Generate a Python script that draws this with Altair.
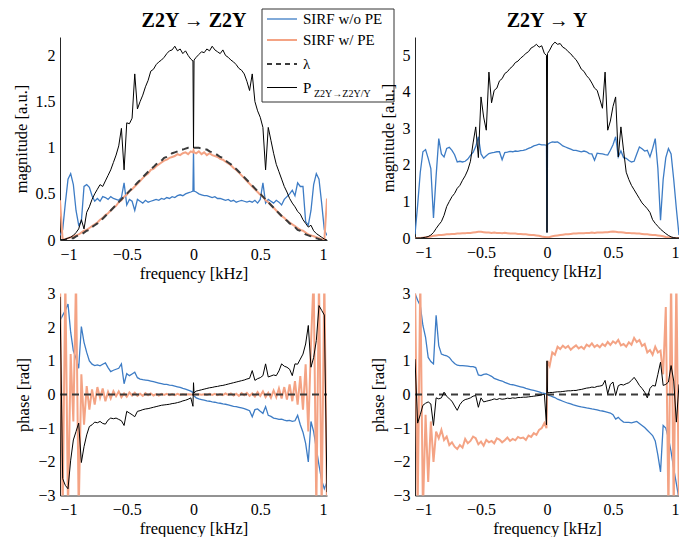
import altair as alt
import pandas as pd

# frequency grid [kHz]
F = ([round(-1 + 0.02 * i, 3) for i in range(50)] + [-0.004, 0.0, 0.004]
     + [round(0.02 * (i + 1), 3) for i in range(50)])

# ---------------- magnitude, Z2Y -> Z2Y ----------------
MAG_Z2Y_WO = [0.05, 0.11, 0.40, 0.66, 0.72, 0.60, 0.32, 0.16, 0.20, 0.58,
              0.60, 0.57, 0.48, 0.42, 0.45, 0.42, 0.47, 0.46, 0.44, 0.47,
              0.45, 0.44, 0.43, 0.46, 0.62, 0.38, 0.44, 0.42, 0.32, 0.44,
              0.42, 0.40, 0.43, 0.41, 0.42, 0.43, 0.44, 0.43, 0.45, 0.44,
              0.46, 0.45, 0.47, 0.46, 0.48, 0.49, 0.48, 0.50, 0.51, 0.52,
              0.53, 0.97, 0.53,
              0.52, 0.50, 0.49, 0.48, 0.48, 0.47, 0.46, 0.47, 0.45, 0.45,
              0.44, 0.43, 0.44, 0.42, 0.43, 0.41, 0.42, 0.43, 0.42, 0.41,
              0.42, 0.41, 0.43, 0.40, 0.44, 0.62, 0.40, 0.44, 0.42, 0.40,
              0.43, 0.41, 0.38, 0.44, 0.47, 0.50, 0.54, 0.48, 0.62, 0.58,
              0.58, 0.20, 0.16, 0.32, 0.60, 0.72, 0.66, 0.40, 0.11, 0.05]
MAG_Z2Y_W = [0.43, 0.00, 0.01, 0.02, 0.03, 0.04, 0.05, 0.06, 0.08, 0.10,
             0.11, 0.13, 0.15, 0.17, 0.19, 0.22, 0.24, 0.27, 0.29, 0.32,
             0.35, 0.37, 0.41, 0.43, 0.47, 0.49, 0.53, 0.55, 0.58, 0.61,
             0.64, 0.67, 0.70, 0.72, 0.76, 0.77, 0.80, 0.82, 0.84, 0.86,
             0.87, 0.89, 0.90, 0.91, 0.93, 0.92, 0.94, 0.95, 0.93, 0.96,
             0.95, 0.97, 0.95,
             0.94, 0.96, 0.93, 0.95, 0.92, 0.94, 0.92, 0.91, 0.90, 0.88,
             0.87, 0.85, 0.83, 0.81, 0.78, 0.76, 0.73, 0.70, 0.67, 0.64,
             0.61, 0.58, 0.55, 0.52, 0.49, 0.47, 0.43, 0.41, 0.38, 0.35,
             0.32, 0.29, 0.26, 0.24, 0.21, 0.19, 0.17, 0.15, 0.13, 0.11,
             0.10, 0.08, 0.06, 0.05, 0.04, 0.03, 0.02, 0.01, 0.00, 0.45]
MAG_Z2Y_LAMBDA = [0.00, 0.00, 0.00, 0.01, 0.02, 0.02, 0.04, 0.05, 0.06, 0.08,
                  0.10, 0.11, 0.14, 0.16, 0.18, 0.21, 0.23, 0.26, 0.29, 0.32,
                  0.35, 0.38, 0.41, 0.44, 0.47, 0.50, 0.53, 0.56, 0.59, 0.62,
                  0.65, 0.68, 0.71, 0.74, 0.77, 0.79, 0.82, 0.84, 0.86, 0.89,
                  0.90, 0.92, 0.94, 0.95, 0.96, 0.98, 0.98, 0.99, 1.00, 1.00,
                  1.00, 1.00, 1.00,
                  1.00, 1.00, 0.99, 0.98, 0.98, 0.96, 0.95, 0.94, 0.92, 0.90,
                  0.89, 0.86, 0.84, 0.82, 0.79, 0.77, 0.74, 0.71, 0.68, 0.65,
                  0.62, 0.59, 0.56, 0.53, 0.50, 0.47, 0.44, 0.41, 0.38, 0.35,
                  0.32, 0.29, 0.26, 0.23, 0.21, 0.18, 0.16, 0.14, 0.11, 0.10,
                  0.08, 0.06, 0.05, 0.04, 0.02, 0.02, 0.01, 0.00, 0.00, 0.00]
MAG_Z2Y_P = [0.00, 0.00, 0.01, 0.02, 0.03, 0.05, 0.08, 0.12, 0.22, 0.12,
             0.30, 0.36, 0.44, 0.50, 0.55, 0.60, 0.58, 0.64, 0.70, 0.76,
             0.84, 0.92, 1.02, 1.21, 0.76, 1.27, 1.26, 1.32, 1.80, 1.42,
             1.50, 1.57, 1.66, 1.73, 1.83, 1.85, 1.90, 1.93, 1.95, 1.98,
             2.02, 2.05, 2.06, 2.10, 2.05, 2.07, 2.02, 2.05, 2.00, 1.96,
             1.94, 1.00, 1.95,
             1.98, 2.01, 2.04, 2.03, 2.07, 2.05, 2.10, 2.06, 2.04, 2.02,
             2.06, 2.00, 1.98, 1.95, 1.93, 1.90, 1.86, 1.84, 1.80, 1.72,
             1.62, 1.80, 1.50, 1.40, 1.33, 1.22, 0.76, 1.22, 1.08, 0.94,
             0.82, 0.74, 0.66, 0.58, 0.52, 0.45, 0.40, 0.36, 0.31, 0.28,
             0.22, 0.18, 0.14, 0.16, 0.10, 0.07, 0.05, 0.03, 0.01, 0.00]

# ---------------- magnitude, Z2Y -> Y ----------------
MAG_Y_WO = [0.10, 0.90, 1.80, 2.36, 2.42, 2.18, 1.90, 0.55, 1.70, 2.72,
            2.30, 2.22, 2.45, 2.48, 2.40, 2.28, 2.08, 2.10, 2.08, 2.10,
            2.16, 2.26, 2.34, 2.50, 2.77, 2.30, 2.18, 2.25, 2.31, 2.33,
            2.34, 2.36, 2.36, 2.14, 2.34, 2.35, 2.37, 2.36, 2.38, 2.37,
            2.39, 2.40, 2.42, 2.45, 2.48, 2.52, 2.54, 2.57, 2.55, 2.55,
            2.54, 0.15, 2.56,
            2.60, 2.63, 2.62, 2.63, 2.58, 2.52, 2.49, 2.46, 2.43, 2.40,
            2.40, 2.38, 2.36, 2.38, 2.36, 2.31, 2.30, 2.13, 2.32, 2.31,
            2.30, 2.28, 2.27, 2.40, 2.55, 2.77, 2.22, 2.38, 2.20, 2.18,
            2.12, 2.08, 2.10, 2.30, 2.49, 2.44, 2.38, 2.40, 2.22, 2.45,
            2.72, 1.90, 0.49, 1.60, 2.20, 2.45, 2.30, 1.60, 0.80, 0.08]
MAG_Y_W = [0.00, 0.00, 0.00, 0.01, 0.02, 0.03, 0.04, 0.06, 0.07, 0.08,
           0.08, 0.09, 0.10, 0.10, 0.11, 0.11, 0.12, 0.12, 0.13, 0.13,
           0.14, 0.14, 0.15, 0.16, 0.17, 0.17, 0.16, 0.15, 0.15, 0.14,
           0.15, 0.14, 0.14, 0.13, 0.14, 0.13, 0.12, 0.12, 0.12, 0.11,
           0.11, 0.10, 0.10, 0.09, 0.08, 0.08, 0.07, 0.06, 0.04, 0.03,
           0.02, 0.01, 0.02,
           0.03, 0.05, 0.06, 0.07, 0.08, 0.09, 0.10, 0.10, 0.11, 0.12,
           0.12, 0.13, 0.13, 0.13, 0.14, 0.14, 0.15, 0.14, 0.15, 0.15,
           0.15, 0.16, 0.16, 0.17, 0.18, 0.17, 0.16, 0.16, 0.15, 0.14,
           0.14, 0.13, 0.13, 0.12, 0.12, 0.11, 0.10, 0.10, 0.09, 0.08,
           0.08, 0.07, 0.06, 0.05, 0.03, 0.02, 0.01, 0.00, 0.00, 0.00]
MAG_Y_P = [0.00, 0.00, 0.00, 0.01, 0.02, 0.04, 0.08, 0.15, 0.26, 0.36,
           0.45, 0.62, 0.86, 1.00, 1.13, 1.22, 1.36, 1.44, 1.58, 1.70,
           1.86, 2.10, 2.60, 3.04, 2.20, 3.86, 3.31, 2.95, 4.54, 3.70,
           4.04, 4.10, 4.30, 4.36, 4.50, 4.55, 4.64, 4.70, 4.80, 4.84,
           4.92, 4.98, 5.05, 5.10, 5.20, 5.24, 5.30, 5.22, 5.26, 5.05,
           5.00, 0.15, 5.05,
           5.14, 5.28, 5.36, 5.30, 5.32, 5.22, 5.18, 5.10, 5.04, 4.95,
           4.88, 4.76, 4.62, 4.56, 4.44, 4.36, 4.24, 4.10, 4.04, 3.80,
           3.55, 4.54, 2.95, 3.20, 3.60, 3.86, 2.22, 3.04, 2.40, 1.80,
           1.60, 1.44, 1.32, 1.20, 1.08, 0.96, 0.88, 0.80, 0.70, 0.50,
           0.40, 0.32, 0.24, 0.18, 0.12, 0.07, 0.03, 0.01, 0.00, 0.00]

# ---------------- phase, Z2Y -> Z2Y ----------------
PH_Z2Y_WO = [2.20, 2.35, 2.50, 2.69, 1.85, 1.30, 1.08, 0.78, 2.02, 1.55,
             1.25, 1.00, 0.90, 0.86, 0.88, 0.85, 0.90, 0.94, 0.80, 0.68,
             0.72, 0.75, 0.78, 0.91, 0.32, 0.62, 0.56, 0.61, 0.66, 0.50,
             0.46, 0.44, 0.43, 0.42, 0.40, 0.38, 0.36, 0.34, 0.32, 0.30,
             0.30, 0.28, 0.27, 0.25, 0.23, 0.21, 0.18, 0.16, 0.13, 0.10,
             0.06, 0.00, -0.04,
             -0.10, -0.13, -0.15, -0.17, -0.19, -0.20, -0.22, -0.23, -0.25, -0.26,
             -0.28, -0.29, -0.31, -0.33, -0.35, -0.36, -0.38, -0.40, -0.42, -0.45,
             -0.48, -0.66, -0.45, -0.43, -0.50, -0.56, -0.36, -0.62, -0.65, -0.70,
             -0.72, -0.74, -0.73, -0.76, -0.78, -0.77, -0.80, -0.78, -0.62, -0.90,
             -1.12, -1.45, -2.00, -0.80, -1.10, -1.60, -2.10, -2.55, -2.80, -2.60]
PH_Z2Y_W = [3.5, -3.5, 3.5, -3.5, 1.2, -0.8, 3.5, -3.5, 0.6, -0.9,
            0.25, -0.45, 0.15, -0.30, 0.22, -0.10, 0.18, -0.20, 0.08, -0.12,
            0.10, -0.05, 0.09, -0.08, 0.03, -0.07, 0.06, -0.03, 0.05, -0.04,
            0.02, -0.04, 0.04, -0.02, 0.03, -0.03, 0.01, -0.03, 0.02, -0.01,
            0.02, -0.02, 0.01, -0.02, 0.02, -0.01, 0.01, -0.01, 0.01, 0.00,
            0.00, 0.00, 0.00,
            0.00, 0.01, -0.01, 0.01, -0.01, 0.02, -0.01, 0.02, -0.02, 0.01,
            -0.02, 0.03, -0.01, 0.03, -0.03, 0.02, -0.04, 0.04, -0.02, 0.05,
            -0.04, 0.03, -0.06, 0.07, -0.04, 0.09, -0.08, 0.05, -0.10, 0.12,
            -0.08, 0.18, -0.12, 0.22, -0.15, 0.30, -0.20, 0.40, -0.30, 0.55,
            -0.45, 0.90, -1.10, 1.50, 3.5, -3.5, 3.5, -3.5, 3.5, -3.5]
PH_Z2Y_P = [2.90, -2.50, -2.70, -2.80, -1.95, -1.35, -1.10, -0.85, -2.02, -1.55,
            -1.20, -0.95, -0.90, -0.82, -0.84, -0.80, -0.86, -0.88, -0.76, -0.70,
            -0.72, -0.70, -0.74, -0.78, -0.92, -0.50, -0.55, -0.60, -0.66, -0.50,
            -0.48, -0.45, -0.43, -0.42, -0.40, -0.38, -0.36, -0.34, -0.32, -0.31,
            -0.30, -0.29, -0.27, -0.26, -0.24, -0.22, -0.19, -0.17, -0.14, -0.10,
            -0.35, 0.35, 0.05,
            0.10, 0.12, 0.14, 0.16, 0.18, 0.20, 0.21, 0.23, 0.24, 0.26,
            0.27, 0.29, 0.31, 0.33, 0.35, 0.37, 0.39, 0.41, 0.43, 0.46,
            0.48, 0.71, 0.42, 0.47, 0.50, 0.56, 0.91, 0.52, 0.55, 0.58,
            0.56, 0.70, 0.91, 0.84, 0.81, 0.75, 0.56, 0.91, 0.90, 1.05,
            1.20, 1.50, 2.05, 0.81, 1.10, 1.60, 2.64, 2.50, 2.36, -2.90]

# ---------------- phase, Z2Y -> Y ----------------
PH_Y_WO = [3.00, 2.80, 2.64, 2.05, 1.70, 1.10, 0.98, 0.91, 2.35, 1.45,
           1.20, 1.17, 1.15, 1.10, 1.00, 0.92, 0.87, 0.86, 0.86, 0.85,
           0.84, 0.83, 0.83, 0.80, 0.58, 0.56, 0.60, 0.61, 0.58, 0.54,
           0.48, 0.45, 0.42, 0.40, 0.36, 0.33, 0.30, 0.29, 0.27, 0.25,
           0.23, 0.21, 0.18, 0.16, 0.14, 0.12, 0.10, 0.08, 0.05, 0.03,
           0.01, 0.00, -0.01,
           -0.03, -0.06, -0.09, -0.14, -0.17, -0.20, -0.23, -0.26, -0.28, -0.31,
           -0.33, -0.35, -0.37, -0.38, -0.40, -0.41, -0.43, -0.44, -0.46, -0.48,
           -0.49, -0.51, -0.53, -0.55, -0.60, -0.73, -0.68, -0.76, -0.82, -0.83,
           -0.83, -0.84, -0.82, -0.80, -0.86, -0.92, -0.98, -1.06, -1.14, -1.22,
           -1.38, -1.80, -2.30, -0.92, -1.00, -1.30, -1.70, -2.20, -2.65, -3.10]
PH_Y_W = [3.5, -3.5, 3.5, -3.5, -0.6, -2.6, -0.8, -2.0, -1.1, -1.3,
          -1.05, -1.35, -1.25, -1.5, -1.42, -1.55, -1.62, -1.5, -1.58, -1.32,
          -1.45, -1.38, -1.25, -1.3, -1.48, -1.4, -1.52, -1.35, -1.42, -1.38,
          -1.45, -1.3, -1.34, -1.42, -1.36, -1.28, -1.38, -1.32, -1.36, -1.26,
          -1.3, -1.28, -1.35, -1.22, -1.26, -1.15, -1.2, -1.05, -1.0, -0.85,
          -1.0, 0.0, 1.0,
          0.85, 1.25, 1.18, 1.42, 1.35, 1.45, 1.38, 1.44, 1.33, 1.4,
          1.46, 1.37, 1.42, 1.35, 1.48, 1.43, 1.52, 1.41, 1.47, 1.4,
          1.5, 1.44, 1.56, 1.47, 1.58, 1.52, 1.62, 1.46, 1.5, 1.42,
          1.55, 1.48, 1.68, 1.56, 1.62, 1.44, 1.5, 1.25, 1.32, 1.18,
          1.42, 1.25, 1.3, 0.6, 2.6, -3.5, 3.5, -3.5, 3.5, -3.5]
PH_Y_P = [1.05, -0.85, -0.60, -0.32, -0.26, -0.22, -0.28, -0.92, -0.10, -0.13,
          -0.10, 0.07, -0.05, -0.13, -0.20, -0.34, -0.47, -0.30, -0.20, -0.15,
          -0.13, -0.10, -0.05, -0.03, -0.38, -0.10, -0.22, -0.20, -0.18, -0.16,
          -0.13, -0.15, -0.12, -0.14, -0.13, -0.11, -0.12, -0.10, -0.11, -0.09,
          -0.09, -0.08, -0.08, -0.07, -0.06, -0.05, -0.04, -0.03, -0.01, 0.01,
          -0.90, 1.00, 0.05,
          0.06, 0.06, 0.07, 0.08, 0.08, 0.09, 0.10, 0.11, 0.11, 0.12,
          0.12, 0.14, 0.15, 0.17, 0.19, 0.20, 0.22, 0.21, 0.24, 0.25,
          0.27, 0.42, 0.02, 0.30, 0.37, -0.03, 0.26, 0.30, 0.28, 0.32,
          0.35, 0.42, 0.51, 0.40, 0.27, 0.18, 0.07, -0.10, 0.18, 0.27,
          0.25, 0.60, 0.96, 0.27, 0.30, 0.37, 0.86, 0.40, -0.82, 0.30]

PH_LAMBDA_F = [-1.0, 1.0]
PH_LAMBDA = [0.0, 0.0]

TITLES = ["Z2Y → Z2Y", "Z2Y → Y"]
LEGEND_LABELS = ["SIRF w/o PE", "SIRF w/ PE", "λ", "P"]
LEGEND_SUB = "Z2Y→Z2Y/Y"

BLUE = "#3D7CC5"
ORANGE = "#F4A384"
BLACK = "#000000"
DASH = "#3A3A3A"
FONT = "Liberation Serif, Times New Roman, Times, DejaVu Serif, serif"
XTICKS = [-1, -0.5, 0, 0.5, 1]


def line(fv, vals, color, width, ydom, xaxis, yaxis, dash=None):
    df = pd.DataFrame({"f": fv, "v": vals})
    kw = dict(color=color, strokeWidth=width, clip=True)
    if dash:
        kw["strokeDash"] = dash
    return alt.Chart(df).mark_line(**kw).encode(
        x=alt.X("f:Q", scale=alt.Scale(domain=[-1, 1], nice=False, zero=False), axis=xaxis),
        y=alt.Y("v:Q", scale=alt.Scale(domain=ydom, nice=False, zero=False), axis=yaxis),
    )


def axes(ytitle, yticks):
    xa = alt.Axis(title="frequency [kHz]", values=XTICKS, format="~g", grid=False,
                  ticks=False, labelPadding=6, titlePadding=3)
    ya = alt.Axis(title=ytitle, values=yticks, format="~g", grid=False,
                  ticks=False, labelPadding=5, titlePadding=6)
    return xa, ya


def panel(wo, w, p, lam_f, lam, ydom, yticks, ytitle):
    xa, ya = axes(ytitle, yticks)
    layers = [line(F, wo, BLUE, 1.3, ydom, xa, ya),
              line(F, w, ORANGE, 2.0, ydom, xa, ya)]
    if lam is not None:
        layers.append(line(lam_f, lam, DASH, 2.0, ydom, xa, ya, dash=[7, 5]))
    layers.append(line(F, p, BLACK, 1.0, ydom, xa, ya))
    return layers


one = pd.DataFrame({"k": [0]})


def title_layer(text, xc):
    return alt.Chart(one).mark_text(align="center", baseline="middle", font=FONT,
                                    fontSize=20, fontWeight="bold", color="black").encode(
        x=alt.value(xc), y=alt.value(-16.5), text=alt.value(text))


def legend_layers():
    out = [alt.Chart(one).mark_rect(fill="white", stroke="#333333", strokeWidth=1).encode(
        x=alt.value(202), x2=alt.value(334), y=alt.value(-28), y2=alt.value(65))]
    ys = [-18, 3, 27, 50.5]
    styles = [(BLUE, 1.3, None), (ORANGE, 2.0, None), (DASH, 2.0, [5, 4]), (BLACK, 1.0, None)]
    for yv, (c, sw, d), lab in zip(ys, styles, LEGEND_LABELS):
        kw = dict(color=c, strokeWidth=sw)
        if d:
            kw["strokeDash"] = d
        out.append(alt.Chart(one).mark_rule(**kw).encode(
            x=alt.value(207), x2=alt.value(237), y=alt.value(yv)))
        out.append(alt.Chart(one).mark_text(align="left", baseline="middle", font=FONT,
                                            fontSize=15, color="black").encode(
            x=alt.value(243), y=alt.value(yv), text=alt.value(lab)))
    out.append(alt.Chart(one).mark_text(align="left", baseline="middle", font=FONT,
                                        fontSize=10, color="black").encode(
        x=alt.value(254), y=alt.value(57), text=alt.value(LEGEND_SUB)))
    return out


tl = alt.layer(*panel(MAG_Z2Y_WO, MAG_Z2Y_W, MAG_Z2Y_P, F, MAG_Z2Y_LAMBDA,
                      [0, 2.2], [0, 0.5, 1, 1.5, 2], "magnitude [a.u.]"),
               title_layer(TITLES[0], 134), *legend_layers()
               ).properties(width=267, height=203)
tr = alt.layer(*panel(MAG_Y_WO, MAG_Y_W, MAG_Y_P, None, None,
                      [0, 5.5], [0, 1, 2, 3, 4, 5], "magnitude [a.u.]"),
               title_layer(TITLES[1], 132)
               ).properties(width=264, height=201)
bl = alt.layer(*panel(PH_Z2Y_WO, PH_Z2Y_W, PH_Z2Y_P, PH_LAMBDA_F, PH_LAMBDA,
                      [-3, 3], [-3, -2, -1, 0, 1, 2, 3], "phase [rad]")
               ).properties(width=267, height=202)
br = alt.layer(*panel(PH_Y_WO, PH_Y_W, PH_Y_P, PH_LAMBDA_F, PH_LAMBDA,
                      [-3, 3], [-3, -2, -1, 0, 1, 2, 3], "phase [rad]")
               ).properties(width=264, height=202)

chart = alt.concat(tl, tr, bl, br, columns=2, spacing={"row": 53.5, "column": 88},
                   bounds="flush").properties(
    padding={"left": 5, "top": 0, "right": 0, "bottom": 0}
).configure_axis(
    labelFont=FONT, titleFont=FONT, labelFontSize=16, titleFontSize=16.5,
    titleFontWeight="normal", labelColor="#000000", titleColor="#000000",
    domainColor="#262626", domainWidth=1
).configure_view(strokeWidth=0)

chart.save("out.html", embed_options={"renderer": "svg", "actions": False})
